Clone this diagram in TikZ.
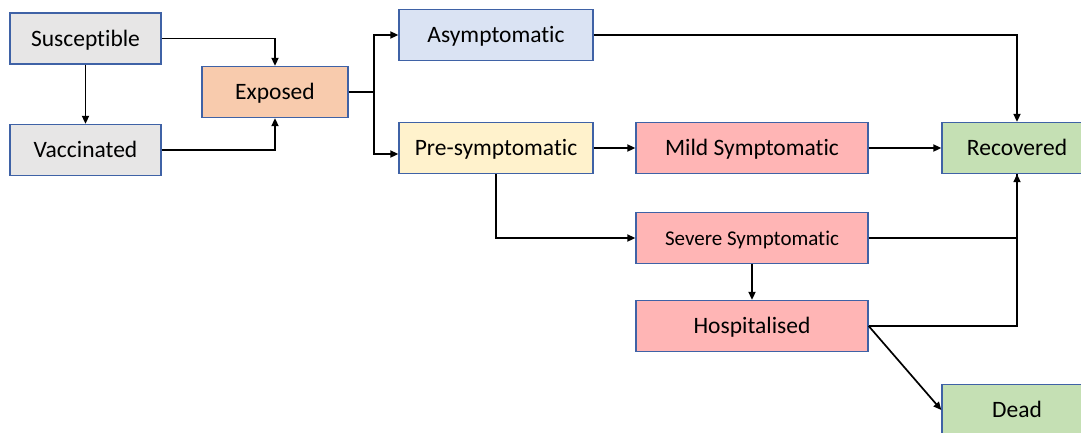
\documentclass[tikz,border=0pt]{standalone}
\usepackage{fontspec}
\setmainfont{Carlito}[Ligatures={NoCommon,NoRare,NoContextual}]
\usetikzlibrary{arrows.meta}
\definecolor{bord}{HTML}{3F62A6}
\definecolor{cgray}{HTML}{E7E6E6}
\definecolor{corange}{HTML}{F8CBAD}
\definecolor{cblue}{HTML}{DAE3F3}
\definecolor{cyellow}{HTML}{FFF2CC}
\definecolor{cpink}{HTML}{FFB5B5}
\definecolor{cgreen}{HTML}{C5E0B4}
\tikzset{
  box/.style={draw=bord, line width=1.3pt, inner sep=0pt, minimum height=51pt,
    text height=20pt, text depth=4.6pt,
    font=\fontsize{23.5}{28}\selectfont, text=black},
  arr/.style={line width=1.7pt, -{Triangle[length=8pt,width=7pt]}},
  ln/.style={line width=1.7pt},
}
\begin{document}
\begin{tikzpicture}[x=1pt,y=-1pt]
\useasboundingbox (0,0) rectangle (1081,432);
\node[box, fill=cgray, minimum width=151pt] (sus) at (85.5,38.5) {Susceptible};
\node[box, fill=cgray, minimum width=151pt] (vac) at (85.5,150) {Vaccinated};
\node[box, fill=corange, minimum width=146pt] (exp) at (275,92) {Exposed};
\node[box, fill=cblue, minimum width=194pt] (asym) at (496,35) {Asymptomatic};
\node[box, fill=cyellow, minimum width=194pt] (pre) at (496,148) {Pre-symptomatic};
\node[box, fill=cpink, minimum width=232pt] (mild) at (752,148) {Mild Symptomatic};
\node[box, fill=cpink, minimum width=232pt, font=\fontsize{21}{25}\selectfont] (sev) at (752,238) {Severe Symptomatic};
\node[box, fill=cpink, minimum width=232pt] (hosp) at (752,326) {Hospitalised};
\node[box, fill=cgreen, minimum width=150pt] (rec) at (1017,148) {Recovered};
\node[box, fill=cgreen, minimum width=150pt] (dead) at (1017,410) {Dead};

\draw[arr] (sus.east) -| (exp.north);
\draw[arr] (vac.east) -| (exp.south);
\draw[arr] (sus.south) -- (vac.north);
\draw[ln] (exp.east) -- ++(25,0) coordinate (br);
\draw[arr] (br) |- (asym.west);
\draw[arr] (br) |- ([yshift=-6pt]pre.west);
\draw[arr] (pre.east) -- (mild.west);
\draw[arr] (pre.south) |- (sev.west);
\draw[arr] (sev.south) -- (hosp.north);
\draw[arr] (mild.east) -- (rec.west);
\draw[arr] (asym.east) -| (rec.north);
\draw[ln] (sev.east) -| (rec.south);
\draw[arr] (hosp.east) -| (rec.south);
\draw[arr] (hosp.east) -- (dead.west);
\end{tikzpicture}
\end{document}
